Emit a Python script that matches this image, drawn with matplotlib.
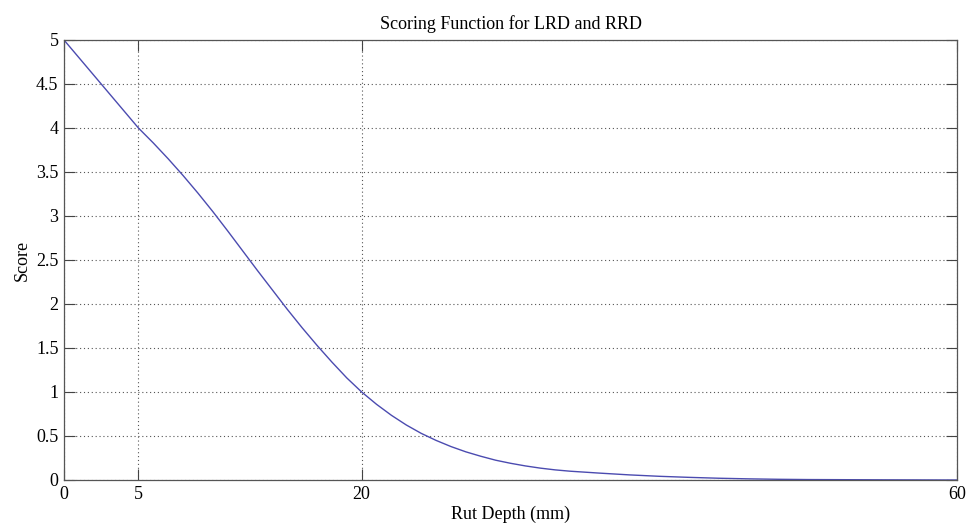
import matplotlib
matplotlib.use("Agg")
import matplotlib.pyplot as plt

# Rut depth (mm) and the corresponding score
rut_depth = [0, 2.5, 5, 6, 7, 8, 9, 10, 11, 12, 13, 14, 15, 16, 17, 18, 19, 20,
             21, 22, 23, 24, 25, 26, 27, 28, 29, 30, 31, 32, 33, 34, 36, 38, 40,
             42, 44, 46, 48, 50, 55, 60]
score = [5.0, 4.5, 4.0, 3.83, 3.65, 3.46, 3.26, 3.05, 2.83, 2.605, 2.38, 2.16,
         1.94, 1.73, 1.53, 1.34, 1.16, 1.0, 0.86, 0.735, 0.625, 0.53, 0.45,
         0.38, 0.32, 0.27, 0.225, 0.19, 0.16, 0.135, 0.115, 0.10, 0.078, 0.058,
         0.042, 0.03, 0.02, 0.013, 0.008, 0.005, 0.002, 0.0]

x_ticks = [0, 5, 20, 60]
y_ticks = [0, 0.5, 1, 1.5, 2, 2.5, 3, 3.5, 4, 4.5, 5]
y_tick_labels = ["0", "0.5", "1", "1.5", "2", "2.5", "3", "3.5", "4", "4.5", "5"]

plt.rcParams["font.family"] = ["Liberation Serif", "DejaVu Serif"]

fig = plt.figure(figsize=(9.72, 5.27), dpi=100)
ax = fig.add_axes([64 / 972, 1 - 480 / 527, 893 / 972, 440 / 527])

ax.plot(rut_depth, score, color="#4b4bb0", lw=1.0)

ax.set_xlim(0, 60)
ax.set_ylim(0, 5)
ax.set_xticks(x_ticks)
ax.set_xticklabels([str(t) for t in x_ticks])
ax.set_yticks(y_ticks)
ax.set_yticklabels(y_tick_labels)

ax.grid(True, linestyle=(0, (1, 2.5)), color="#555555", linewidth=0.8)
ax.tick_params(direction="in", length=8, width=0.8, color="#444444",
               labelsize=13, top=True, right=True, pad=4)
for s in ax.spines.values():
    s.set_color("#555555")
    s.set_linewidth(0.9)

ax.set_title("Scoring Function for LRD and RRD", fontsize=13, pad=8)
ax.set_xlabel("Rut Depth (mm)", fontsize=13, labelpad=2)
ax.set_ylabel("Score", fontsize=13, labelpad=4)

fig.savefig("out.png", dpi=100)
